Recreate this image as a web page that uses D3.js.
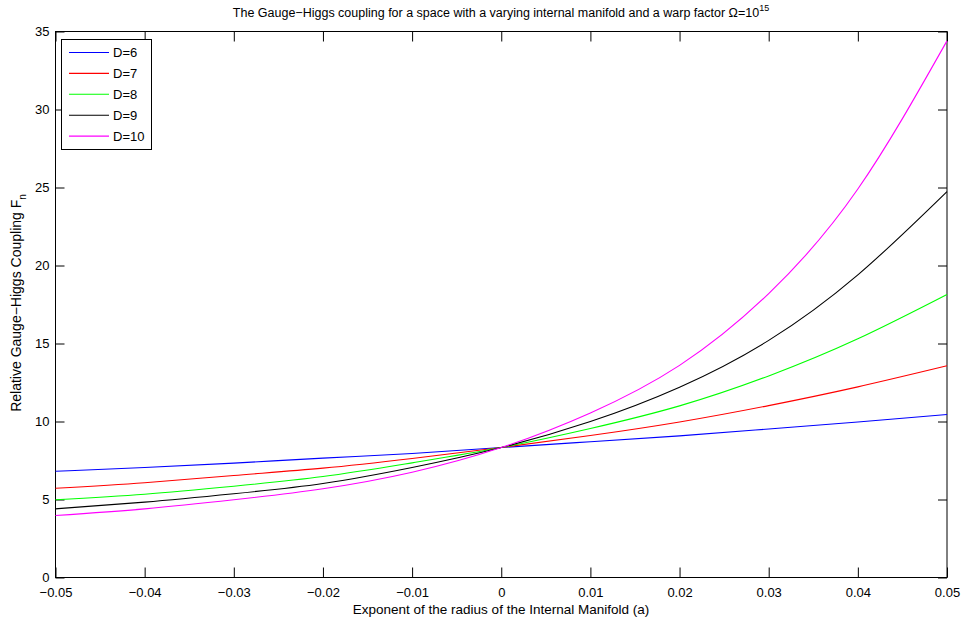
<!DOCTYPE html>
<html><head><meta charset="utf-8">
<script src="https://cdn.jsdelivr.net/npm/d3@7"></script>
<style>
body{margin:0;background:#fff;}
text{font-family:"Liberation Sans",Arial,Helvetica,sans-serif;}
</style></head>
<body><svg id="c" width="964" height="625"></svg>
<script>
const xValues = [-0.05,-0.04,-0.03,-0.02,-0.01,0,0.01,0.02,0.03,0.04,0.05];
const seriesNames = ["D=6","D=7","D=8","D=9","D=10"];
const seriesColors = ["#0000ff","#ff0000","#00ff00","#000000","#ff00ff"];
const d6  = [6.81,7.05,7.33,7.65,7.95,8.33,8.70,9.08,9.52,9.97,10.45];
const d7  = [5.72,6.07,6.54,7.01,7.63,8.33,9.10,9.97,11.02,12.22,13.57];
const d8  = [4.98,5.34,5.85,6.47,7.35,8.33,9.55,11.0,12.92,15.3,18.14];
const d9  = [4.40,4.83,5.37,6.03,7.05,8.33,10.0,12.2,15.2,19.4,24.74];
const d10 = [3.97,4.40,4.98,5.69,6.75,8.33,10.55,13.6,18.2,24.9,34.4];
const seriesValues = [d6,d7,d8,d9,d10];
const xTicks = [-0.05,-0.04,-0.03,-0.02,-0.01,0,0.01,0.02,0.03,0.04,0.05];
const xTickLabels = ["\u22120.05","\u22120.04","\u22120.03","\u22120.02","\u22120.01","0","0.01","0.02","0.03","0.04","0.05"];
const yTicks = [0,5,10,15,20,25,30,35];
const titleText = "The Gauge\u2212Higgs coupling for a space with a varying internal manifold and a warp factor \u03A9=10";
const titleSup = "15";
const xLabel = "Exponent of the radius of the Internal Manifold (a)";
const yLabel = "Relative Gauge\u2212Higgs Coupling F";
const yLabelSub = "n";

const svg = d3.select("#c");
const L=55.5, R=947, T=31.5, B=577.5;
const x = d3.scaleLinear().domain([-0.05,0.05]).range([L,R]);
const y = d3.scaleLinear().domain([0,35]).range([B,T]);

svg.append("rect").attr("x",L).attr("y",T).attr("width",R-L).attr("height",B-T)
  .attr("fill","none").attr("stroke","#000").attr("stroke-width",1);

const fs = 13;
const xAxis = d3.axisBottom(x).tickValues(xTicks).tickFormat((d,i)=>xTickLabels[i]).tickSize(-10).tickPadding(10);
const gx = svg.append("g").attr("transform",`translate(0,${B})`).call(xAxis);
gx.select(".domain").remove();
gx.selectAll("text").attr("font-size",fs).attr("fill","#000").attr("font-family","Liberation Sans, Arial, sans-serif");
const xTop = d3.axisTop(x).tickValues(xTicks).tickFormat("").tickSize(-10);
const gxt = svg.append("g").attr("transform",`translate(0,${T})`).call(xTop);
gxt.select(".domain").remove();

const yAxis = d3.axisLeft(y).tickValues(yTicks).tickFormat(d3.format("d")).tickSize(-9).tickPadding(6);
const gy = svg.append("g").attr("transform",`translate(${L},0)`).call(yAxis);
gy.select(".domain").remove();
gy.selectAll("text").attr("font-size",fs).attr("fill","#000").attr("font-family","Liberation Sans, Arial, sans-serif");
const yRight = d3.axisRight(y).tickValues(yTicks).tickFormat("").tickSize(-9);
const gyr = svg.append("g").attr("transform",`translate(${R},0)`).call(yRight);
gyr.select(".domain").remove();
svg.selectAll(".tick line").attr("stroke","#000");

const line = d3.line().x((d,i)=>x(xValues[i])).y(d=>y(d)).curve(d3.curveNatural);
seriesValues.forEach((vals,k)=>{
  svg.append("path").datum(vals).attr("d",line).attr("fill","none")
    .attr("stroke",seriesColors[k]).attr("stroke-width",1.1);
});

const lg = svg.append("g");
lg.append("rect").attr("x",61.5).attr("y",39.5).attr("width",90).attr("height",110)
  .attr("fill","#fff").attr("stroke","#000").attr("stroke-width",1);
seriesNames.forEach((n,k)=>{
  const yy = 52.5 + k*20.9;
  lg.append("line").attr("x1",69).attr("x2",109).attr("y1",yy).attr("y2",yy)
    .attr("stroke",seriesColors[k]).attr("stroke-width",1.1);
  lg.append("text").attr("x",113).attr("y",yy).attr("dy","0.36em").attr("font-size",fs).text(n);
});

const t = svg.append("text").attr("x",501).attr("y",17).attr("text-anchor","middle").attr("font-size",12.5);
t.append("tspan").text(titleText);
t.append("tspan").attr("dy",-6).attr("font-size",9).text(titleSup);

svg.append("text").attr("x",501).attr("y",614).attr("text-anchor","middle").attr("font-size",13.5).text(xLabel);
const yl = svg.append("text").attr("transform","translate(21,303) rotate(-90)").attr("text-anchor","middle").attr("font-size",14);
yl.append("tspan").text(yLabel);
yl.append("tspan").attr("dy",5).attr("font-size",10).text(yLabelSub);
</script></body></html>
